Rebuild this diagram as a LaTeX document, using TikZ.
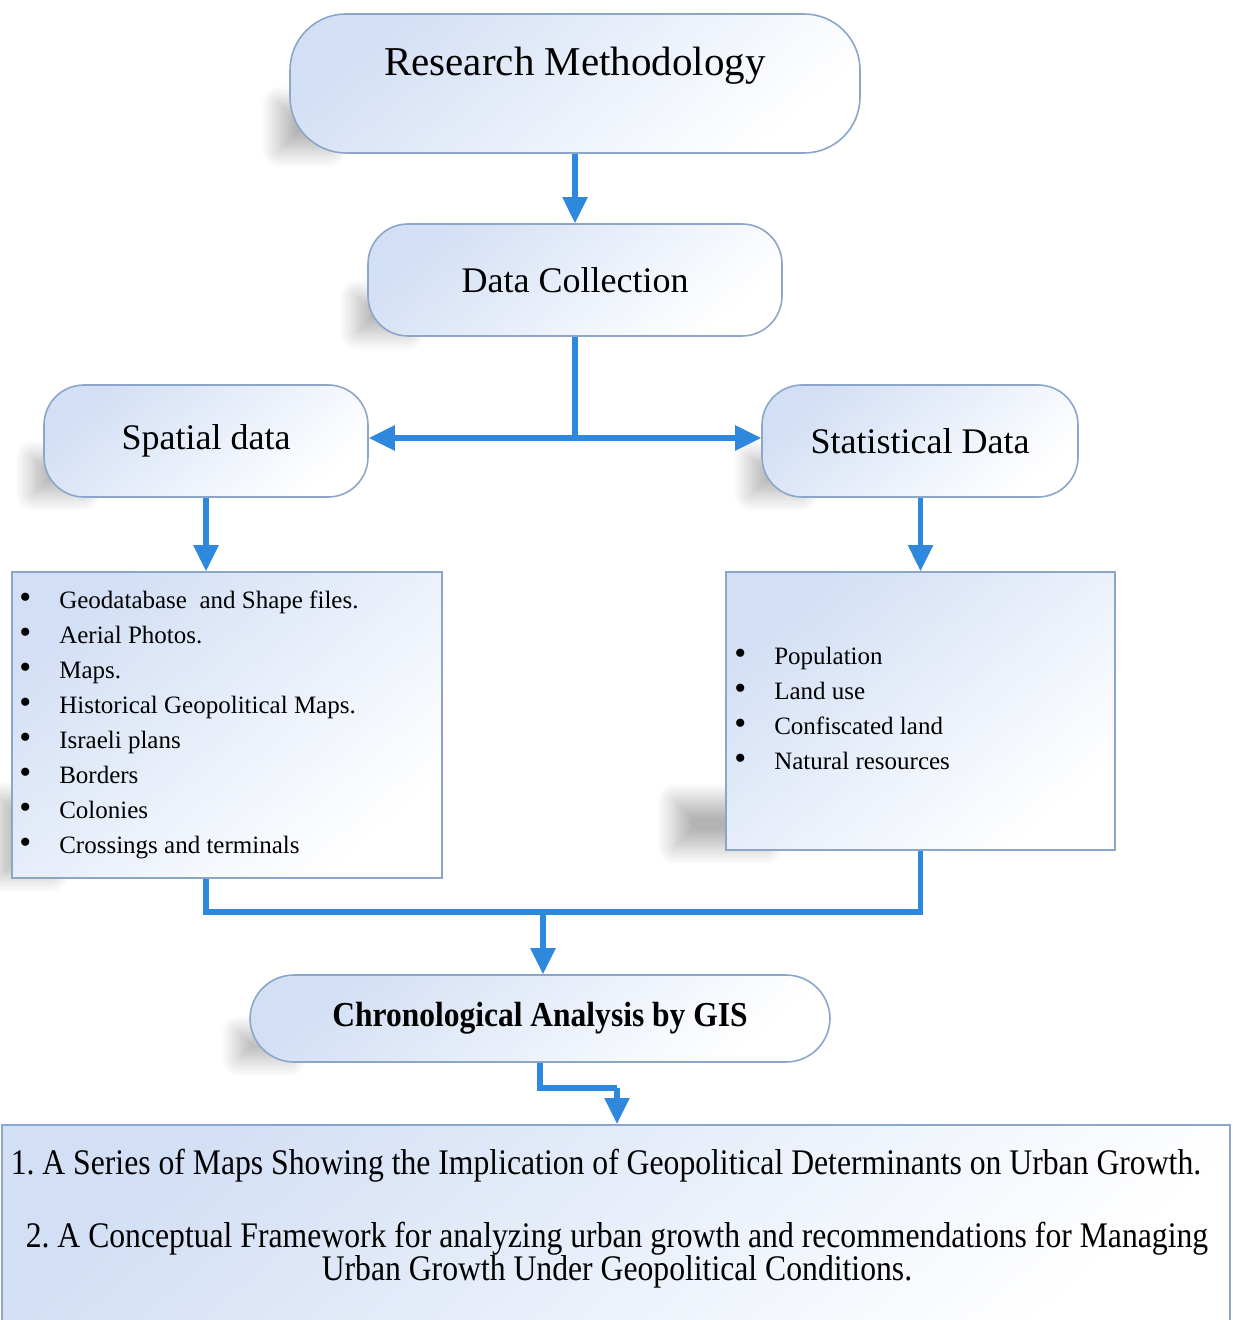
\documentclass[tikz,border=0pt]{standalone}
\usepackage{fontspec}
\setmainfont{Liberation Serif}
\newfontfamily\condfont[FakeStretch=0.88]{Liberation Serif}
\newfontfamily\chronfont[FakeStretch=0.9]{Liberation Serif Bold}
\usetikzlibrary{arrows.meta,shadows.blur,calc,backgrounds}
\definecolor{arrowblue}{HTML}{2E88DD}
\definecolor{edgeblue}{HTML}{8BA6C8}
\definecolor{fillblue}{HTML}{D3DFF5}
\newcommand{\bul}{{\fontsize{17}{0}\selectfont\textbullet}}
% shadow behind the lower-left part of a box: [left protrusion px] node name, height in px
\newcommand{\boxshadow}[3][-10]{%
  \path[softshadow] ($(#2.south west)+(#1,-4)$) rectangle ($(#2.south west)+(40,-#3)$);}
\tikzset{
  box/.style={draw=edgeblue, line width=0.8pt, top color=fillblue, bottom color=white, shading angle=40,
    inner sep=0pt, align=center},
  softshadow/.style={blur shadow={shadow xshift=0pt, shadow yshift=0pt,
    shadow opacity=30, shadow blur steps=14, shadow blur radius=9pt}},
  pill/.style={box, rounded corners=28pt},
  roundbox/.style={box, rounded corners=20pt},
  conn/.style={draw=arrowblue, line width=2.6pt},
  arr/.style={conn, -{Triangle[length=13pt,width=12pt]}},
  bigtext/.style={font=\fontsize{18}{21}\selectfont},
  listtext/.style={font=\fontsize{12.5}{17.5}\selectfont, inner sep=0pt, anchor=base west},
}
\begin{document}
\begin{tikzpicture}[x=0.5pt,y=-0.5pt]
\useasboundingbox (0,0) rectangle (1232,1320);
% boxes
\node[pill, minimum width=285pt, minimum height=69.5pt] (rm) at (575,83.5) {};
\node[font=\fontsize{20.5}{24}\selectfont, inner sep=0pt] (rmtext) at (575,66) {Research Methodology};
\node[roundbox, minimum width=207pt, minimum height=56pt, bigtext] (dc) at (575,280) {Data Collection};
\node[roundbox, minimum width=162pt, minimum height=56pt, bigtext] (sp) at (206,441) {Spatial data};
\node[roundbox, minimum width=158pt, minimum height=56pt, bigtext] (st) at (920,441) {Statistical Data};
\node[box, minimum width=215pt, minimum height=153pt] (L) at (227,725) {};
\node[box, minimum width=194.5pt, minimum height=139pt] (R) at (920.5,711) {};
\node[pill, rounded corners=22pt, minimum width=290pt, minimum height=43.5pt] (ch) at (540,1018.5)
  {\chronfont\fontsize{17.5}{20}\selectfont Chronological Analysis by GIS};
\node[box, minimum width=614pt, minimum height=110pt, anchor=north] (out) at (616,1124) {};
% shadows
\begin{scope}[on background layer]
  \boxshadow{rm}{50}
  \boxshadow{dc}{40}
  \boxshadow{sp}{40}
  \boxshadow{st}{40}
  \boxshadow{L}{80}
  \boxshadow[-50]{R}{50}
  \boxshadow{ch}{30}
\end{scope}
% list texts
\node[listtext] (Ltext) at (19,608) {%
\begin{tabular}[t]{@{}l@{\hspace{14pt}}l@{}}
\bul & Geodatabase\ \ and Shape files.\\
\bul & Aerial Photos.\\
\bul & Maps.\\
\bul & Historical Geopolitical Maps.\\
\bul & Israeli plans\\
\bul & Borders\\
\bul & Colonies\\
\bul & Crossings and terminals
\end{tabular}};
\node[listtext] (Rtext) at (734,664) {%
\begin{tabular}[t]{@{}l@{\hspace{14pt}}l@{}}
\bul & Population\\
\bul & Land use\\
\bul & Confiscated land\\
\bul & Natural resources
\end{tabular}};
% output texts
\node[inner sep=0pt, anchor=base, font=\condfont\fontsize{18}{16.5}\selectfont] (o1) at (606,1174)
  {1.\ A Series of Maps Showing the Implication of Geopolitical Determinants on Urban Growth.};
\node[inner sep=0pt, anchor=north, align=center, font=\condfont\fontsize{18}{16.5}\selectfont] (o2) at (617,1222)
  {2.\ A Conceptual Framework for analyzing urban growth and recommendations for Managing\\
   Urban Growth Under Geopolitical Conditions.};
% junctions
\coordinate (j1) at (575,438);
\coordinate (j2) at (543,912);
\coordinate (j3) at (617,1088);
% connectors
\draw[arr] (rm.south) -- (dc.north);
\draw[conn] (dc.south) -- (j1);
\draw[arr] (j1) -- (sp.east |- j1);
\draw[arr] (j1) -- (st.west |- j1);
\draw[arr] (sp.south) -- (sp.south |- L.north);
\draw[arr] (st.south -| R.north) -- (R.north);
\draw[conn] (L.south -| sp.south) |- (j2) -| (R.south);
\draw[arr] (j2) -- (j2 |- ch.north);
\draw[conn] (ch.south) |- (j3);
\draw[arr] (j3) -- (j3 |- out.north);
\end{tikzpicture}
\end{document}
